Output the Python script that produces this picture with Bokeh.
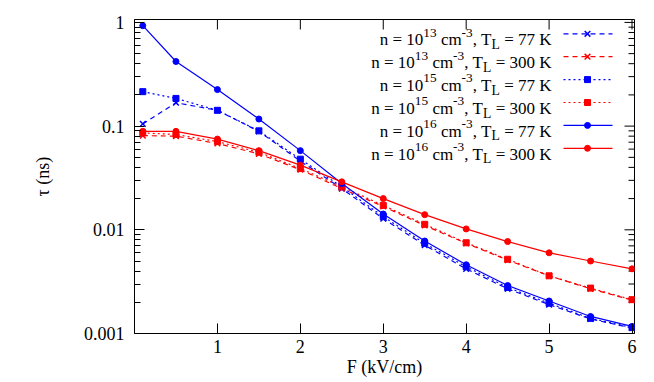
import math
from bokeh.plotting import figure
from bokeh.models import FixedTicker, Range1d
from bokeh.core.properties import value
from bokeh.embed import file_html
from bokeh.resources import INLINE

# ---------------- data ----------------
F = [0.1, 0.5, 1.0, 1.5, 2.0, 2.5, 3.0, 3.5, 4.0, 4.5, 5.0, 5.5, 6.0]
tau_13_77 = [0.105, 0.168, 0.142, 0.089, 0.046, 0.025, 0.0128, 0.0071, 0.0042, 0.0027, 0.0019, 0.00138, 0.00113]
tau_13_300 = [0.081, 0.080, 0.068, 0.054, 0.038, 0.025, 0.0168, 0.0110, 0.0074, 0.0051, 0.0036, 0.0027, 0.0021]
tau_15_77 = [0.215, 0.185, 0.142, 0.090, 0.048, 0.026, 0.0134, 0.0074, 0.0044, 0.00278, 0.00196, 0.0014, 0.00114]
tau_15_300 = [0.086, 0.083, 0.071, 0.056, 0.039, 0.026, 0.0172, 0.0113, 0.0075, 0.0052, 0.0036, 0.00274, 0.00212]
tau_16_77 = [0.93, 0.42, 0.225, 0.117, 0.058, 0.028, 0.0142, 0.0078, 0.0046, 0.0029, 0.00206, 0.00146, 0.00117]
tau_16_300 = [0.089, 0.089, 0.075, 0.058, 0.042, 0.029, 0.0200, 0.0140, 0.0102, 0.0077, 0.0060, 0.0050, 0.0042]

x_ticks = [1, 2, 3, 4, 5, 6]
y_ticks = [0.001, 0.01, 0.1, 1]
y_tick_labels = ["0.001", "0.01", "0.1", "1"]
densities = ["13", "13", "15", "15", "16", "16"]
temps = ["77", "300", "77", "300", "77", "300"]

# ---------------- layout ----------------
FONT = "Liberation Serif"
FS = 17          # legend text
AFS = 18         # axis text
X0, X1 = 0.0, 6.03
Y0, Y1 = 0.001, 1.067
W, H = 646, 382
BL, BR, BT, BB = 134, 12, 19, 49
FW, FH = W - BL - BR, H - BT - BB
MAJ, MIN = 10, 6

p = figure(width=W, height=H, output_backend="svg", toolbar_location=None,
           x_axis_type="linear", y_axis_type="log",
           x_range=Range1d(X0, X1), y_range=Range1d(Y0, Y1),
           min_border_left=BL, min_border_right=BR, min_border_top=BT, min_border_bottom=BB,
           x_axis_label="F (kV/cm)", y_axis_label="τ (ns)")
p.xgrid.visible = False
p.ygrid.visible = False
p.outline_line_color = "black"
p.outline_line_width = 1
p.background_fill_color = "white"
p.border_fill_color = "white"

minor_y = [m * 10 ** e for e in range(-3, 0) for m in range(2, 10)]

for ax in p.xaxis:
    ax.ticker = FixedTicker(ticks=x_ticks, minor_ticks=[])
for ax in p.yaxis:
    ax.ticker = FixedTicker(ticks=y_ticks, minor_ticks=minor_y)
    ax.major_label_overrides = {t: l for t, l in zip(y_ticks, y_tick_labels)}

for ax in list(p.xaxis) + list(p.yaxis):
    ax.axis_line_color = "black"
    ax.major_tick_in = MAJ
    ax.major_tick_out = 0
    ax.minor_tick_in = MIN
    ax.minor_tick_out = 0
    ax.major_tick_line_color = "black"
    ax.minor_tick_line_color = "black"
    ax.major_label_text_font = FONT
    ax.major_label_text_font_size = f"{AFS}px"
    ax.major_label_text_color = "black"
    ax.axis_label_text_font = FONT
    ax.axis_label_text_font_size = f"{AFS}px"
    ax.axis_label_text_font_style = "normal"
    ax.axis_label_text_color = "black"

for ax in p.xaxis:
    ax.major_label_standoff = 6
    ax.axis_label_standoff = 1
for ax in p.yaxis:
    ax.major_label_standoff = 10
    ax.axis_label_standoff = 28

# ---------------- pixel <-> data helpers (page has no margin) ----------------
FL_WIN, FT_WIN = BL, BT
FR_WIN, FB_WIN = FL_WIN + FW, FT_WIN + FH

def xd(px):
    return X0 + (px - FL_WIN) / FW * (X1 - X0)

def yd(py):
    ly0, ly1 = math.log10(Y0), math.log10(Y1)
    return 10 ** (ly0 + (FB_WIN - py) / FH * (ly1 - ly0))

# mirrored ticks on top and right borders (gnuplot style)
p.segment(x0=x_ticks, x1=x_ticks, y0=[Y1] * len(x_ticks), y1=[yd(FT_WIN + MAJ)] * len(x_ticks),
          line_color="black", line_width=1)
p.segment(x0=[xd(FR_WIN - MAJ)] * len(y_ticks), x1=[X1] * len(y_ticks), y0=y_ticks, y1=y_ticks,
          line_color="black", line_width=1)
p.segment(x0=[xd(FR_WIN - MIN)] * len(minor_y), x1=[X1] * len(minor_y), y0=minor_y, y1=minor_y,
          line_color="black", line_width=1)

# ---------------- series ----------------
series = [
    (tau_13_77, "blue", "dashed", "x"),
    (tau_13_300, "red", "dashed", "x"),
    (tau_15_77, "blue", "dotted", "square"),
    (tau_15_300, "red", "dotted", "square"),
    (tau_16_77, "blue", "solid", "circle"),
    (tau_16_300, "red", "solid", "circle"),
]
DASH = {"dashed": "5 4", "dotted": "2 3", "solid": "solid"}
MSIZE = {"x": 8, "square": 6, "circle": 6}

def draw_marker(xs, ys, col, mk):
    if mk == "x":
        p.scatter(xs, ys, marker="x", size=MSIZE[mk], line_color=col, line_width=1.5)
    else:
        p.scatter(xs, ys, marker=mk, size=MSIZE[mk], fill_color=col, line_color=col)

for ys, col, dash, mk in series:
    p.line(F, ys, line_color=col, line_width=1.2, line_dash=DASH[dash])
    draw_marker(F, ys, col, mk)

# ---------------- legend (manual, with super/subscripts) ----------------
# Liberation Serif (Times metrics) advance widths, per 1000 em
ADV = {" ": 250, "=": 564, "n": 500, "c": 444, "m": 778, "-": 333, ",": 250,
       "T": 611, "L": 611, "K": 722}
for d in "0123456789":
    ADV[d] = 500

def width(s, fs):
    return sum(ADV.get(ch, 500) for ch in s) / 1000.0 * fs

TEXT_R = 551
ROW0, ROW_DY = 33.3, 22.9
SAMPLE_X0, SAMPLE_X1, SAMPLE_XM = 563, 612, 587
SUP, SUB = 0.78, 0.8

for i, (ys, col, dash, mk) in enumerate(series):
    row = ROW0 + i * ROW_DY
    base = row + 6
    pieces = [
        ("n = 10", FS, 0),
        (densities[i], FS * SUP, -0.42 * FS),
        (" cm", FS, 0),
        ("-3", FS * SUP, -0.42 * FS),
        (", T", FS, 0),
        ("L", FS * SUB, 0.27 * FS),
        (" = " + temps[i] + " K", FS, 0),
    ]
    right_edge = TEXT_R
    for txt, fs, dy in reversed(pieces):
        p.text(x=[xd(right_edge)], y=[yd(base + dy)], text=[txt.lstrip()],
               text_font=value(FONT), text_font_size=value(f"{fs:.1f}px"),
               text_align="right", text_baseline="alphabetic", text_color="black")
        right_edge -= width(txt, fs)
    p.line([xd(SAMPLE_X0), xd(SAMPLE_X1)], [yd(row), yd(row)], line_color=col,
           line_width=1.2, line_dash=DASH[dash])
    draw_marker([xd(SAMPLE_XM)], [yd(row)], col, mk)

open("out.html", "w").write(file_html(p, INLINE))
